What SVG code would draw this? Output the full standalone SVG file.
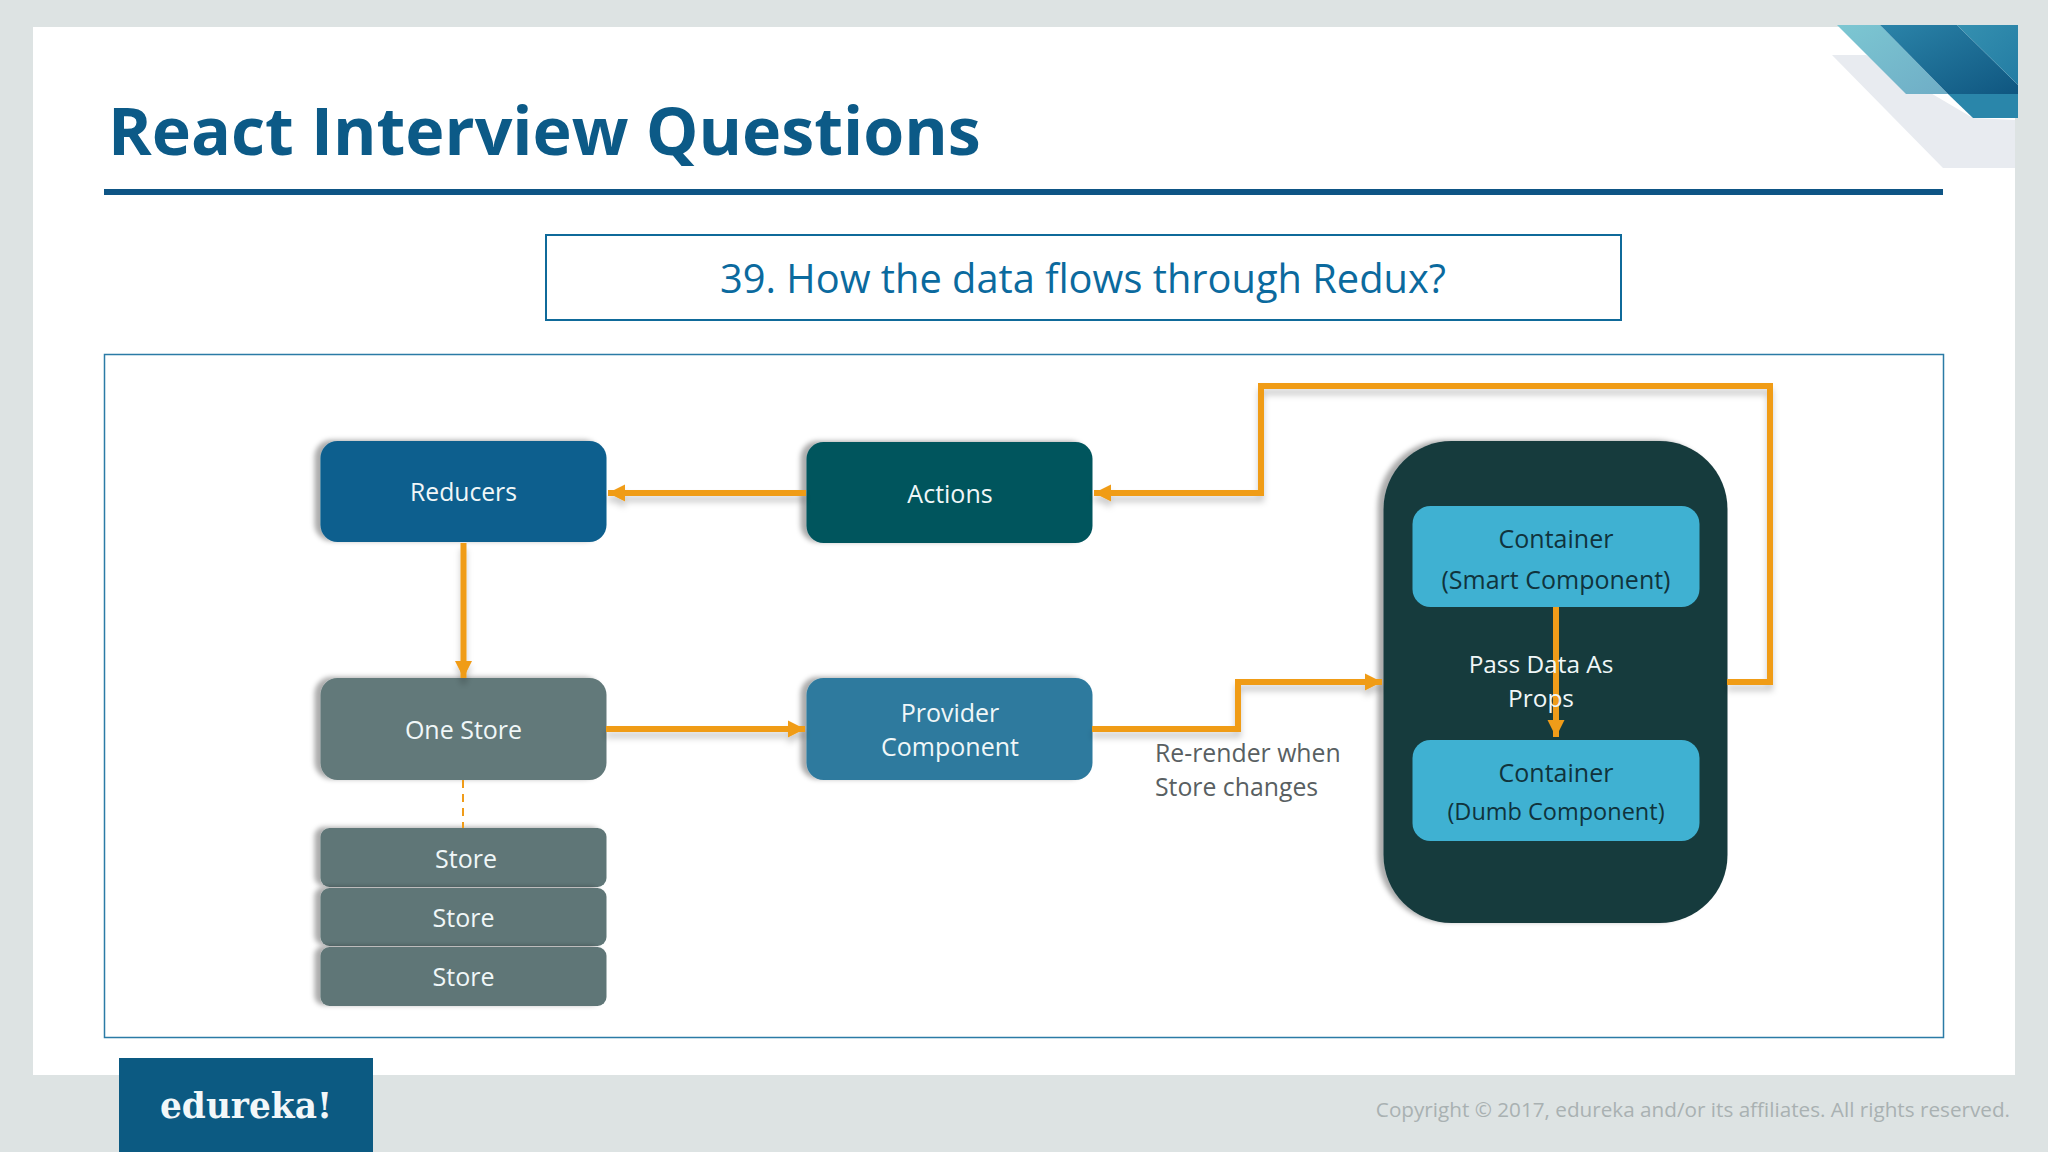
<svg xmlns="http://www.w3.org/2000/svg" width="2048" height="1152" viewBox="0 0 2048 1152">
<style>
text{font-family:"Open Sans","Noto Sans","Liberation Sans",sans-serif;text-anchor:middle}
.w{fill:#f0f7f8;font-size:25px}
.d{fill:#10333c;font-size:25px}
.g{fill:#595f62;font-size:25px}
.c{fill:none;stroke:#f09c19;stroke-width:6;filter:url(#ls)}
.box{filter:url(#bs)}
</style>
<defs>
<filter id="bs" x="-10%" y="-15%" width="120%" height="130%"><feDropShadow dx="-6" dy="-1" stdDeviation="2.500" flood-color="#000" flood-opacity=".33"/></filter>
<filter id="ls" x="-10%" y="-10%" width="120%" height="125%" filterUnits="userSpaceOnUse" primitiveUnits="userSpaceOnUse"><feDropShadow dx="0" dy="6" stdDeviation="3" flood-color="#000" flood-opacity=".2"/></filter>
<marker id="a" markerUnits="userSpaceOnUse" markerWidth="20" markerHeight="20" refX="17" refY="10" orient="auto"><path d="M0 1.500L17 10L0 18.500Z" fill="#f09c19"/></marker>
<linearGradient id="t1" x1="0" y1="0" x2="1" y2="1"><stop offset="0" stop-color="#7cc7d2"/><stop offset="1" stop-color="#6fadc6"/></linearGradient>
<linearGradient id="t2" x1="0" y1="0" x2="1" y2="1"><stop offset="0" stop-color="#2b84a9"/><stop offset="1" stop-color="#0f5680"/></linearGradient>
<linearGradient id="t3" x1="0" y1="0" x2="1" y2="1"><stop offset="0" stop-color="#3590b0"/><stop offset="1" stop-color="#237ca3"/></linearGradient>
</defs>
<rect width="2048" height="1152" fill="#dde3e3"/>
<rect x="33" y="27" width="1982" height="1048" fill="#fff"/>
<g id="corner">
<polygon points="1832,55 1866,55 1973,118 2015,120 2015,168 1943,168" fill="#e8ebf0"/>
<polygon points="1837,25 1880,25 1948,94 1906,94" fill="url(#t1)"/>
<polygon points="1948,94 2018,94 2018,118 1973,118" fill="#2a86aa"/>
<polygon points="1880,25 1957,25 2018,85 2018,94 1948,94" fill="url(#t2)"/>
<polygon points="1957,25 2018,25 2018,85" fill="url(#t3)"/>
</g>
<text id="title" x="108" y="155" style="text-anchor:start;font-size:66.300px;font-weight:700;fill:#0c5a87">React Interview Questions</text>
<rect x="104" y="189" width="1839" height="6" fill="#0e5585"/>
<g id="question">
<rect x="546" y="235" width="1075" height="85" fill="#fff" stroke="#0f6a9a" stroke-width="2"/>
<text x="1083" y="293" style="font-size:39.800px;fill:#0b6a9e">39. How the data flows through Redux?</text>
</g>
<rect id="frame" x="104.500" y="354.500" width="1839" height="683" fill="#fff" stroke="#2b7ba6" stroke-width="1.500"/>
<g id="reducers"><rect class="box" x="320.500" y="441" width="286" height="101" rx="17" fill="#0c5f8e"/><text class="w" x="463.500" y="501" style="font-size:24.700px">Reducers</text></g>
<g id="actions"><rect class="box" x="806.500" y="442" width="286" height="101" rx="17" fill="#02545d"/><text class="w" x="950" y="502.500">Actions</text></g>
<g id="one-store"><rect class="box" x="320.500" y="678" width="286" height="102" rx="17" fill="#62797a"/><text class="w" x="463.500" y="739">One Store</text></g>
<g id="provider"><rect class="box" x="806.500" y="678" width="286" height="102" rx="17" fill="#2f7a9e"/><text class="w" x="950" y="722">Provider</text><text class="w" x="950" y="756">Component</text></g>
<g id="store-1"><rect class="box" x="320.500" y="828" width="286" height="59" rx="9" fill="#5f7677"/><text class="w" x="466" y="868">Store</text></g>
<g id="store-2"><rect class="box" x="320.500" y="888" width="286" height="58" rx="9" fill="#5f7677"/><text class="w" x="463.500" y="927">Store</text></g>
<g id="store-3"><rect class="box" x="320.500" y="947" width="286" height="59" rx="9" fill="#5f7677"/><text class="w" x="463.500" y="986">Store</text></g>
<g id="container"><rect class="box" x="1383.500" y="441" width="344" height="482" rx="68" fill="#183a3e"/></g>
<g id="smart"><rect x="1412.500" y="506" width="287" height="101" rx="18" fill="#3fb1d2"/><text class="d" x="1556" y="548">Container</text><text class="d" x="1556" y="589">(Smart Component)</text></g>
<g id="dumb"><rect x="1412.500" y="740" width="287" height="101" rx="18" fill="#3fb1d2"/><text class="d" x="1556" y="782">Container</text><text class="d" x="1556" y="820" style="font-size:23.500px">(Dumb Component)</text></g>
<g id="connectors">
<path class="c" d="M806 493H608" marker-end="url(#a)"/>
<path class="c" d="M463.500 543V678" marker-end="url(#a)"/>
<path class="c" d="M606 729H805" marker-end="url(#a)"/>
<path class="c" d="M1092 729H1238V682H1382" marker-end="url(#a)"/>
<path class="c" d="M1727 682H1770V386H1261V493H1094" marker-end="url(#a)"/>
<path d="M1556 607V737" fill="none" stroke="#f09c19" stroke-width="6" marker-end="url(#a)"/>
<path d="M463 780V828" fill="none" stroke="#f09c19" stroke-width="2" stroke-dasharray="8 6"/>
</g>
<g id="labels">
<text class="w" x="1541" y="673" style="font-size:24.400px">Pass Data As</text>
<text class="w" x="1541" y="707" style="font-size:24.400px">Props</text>
<text class="g" style="text-anchor:start;font-size:24.800px" x="1155" y="762">Re-render when</text>
<text class="g" style="text-anchor:start;font-size:24.800px" x="1155" y="796">Store changes</text>
</g>
<g id="logo"><rect x="119" y="1058" width="254" height="94" fill="#0c5a82"/><text x="246" y="1118" style="font-family:'DejaVu Serif',serif;font-weight:700;font-size:35px;fill:#f2f7f9" textLength="172" lengthAdjust="spacingAndGlyphs">edureka!</text></g>
<text id="copyright" x="2010" y="1117" style="text-anchor:end;font-size:20.700px;fill:#a9b1b2">Copyright © 2017, edureka and/or its affiliates. All rights reserved.</text>
</svg>
